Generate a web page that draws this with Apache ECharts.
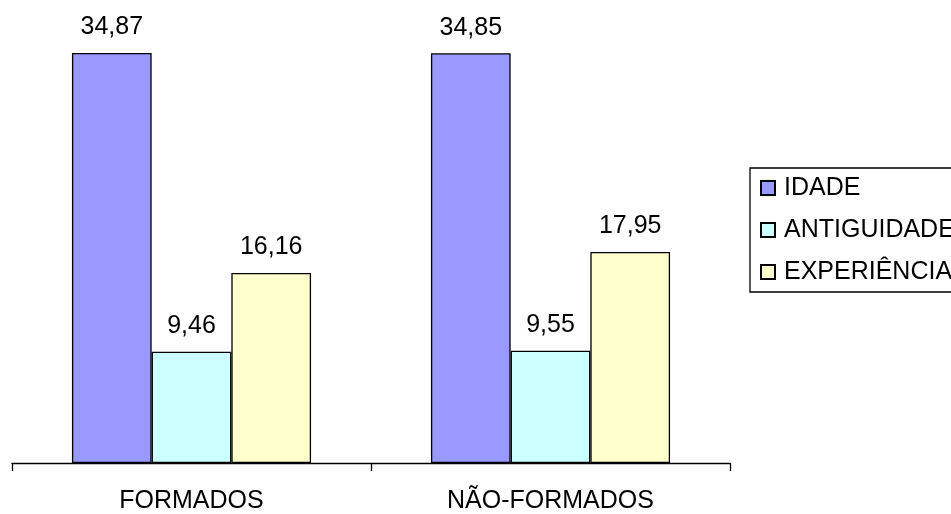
<!DOCTYPE html>
<html>
<head>
<meta charset="utf-8">
<script src="https://cdn.jsdelivr.net/npm/echarts@6/dist/echarts.min.js"></script>
<style>
  html, body { margin: 0; padding: 0; background: #fff; }
  #chart { width: 951px; height: 514px; }
</style>
</head>
<body>
<div id="chart"></div>
<script>
// Group labels along the x axis
const categories = ['FORMADOS', 'NÃO-FORMADOS'];

// Mean values per group (years)
const idade = [34.87, 34.85];
const antiguidade = [9.46, 9.55];
const experiencia = [16.16, 17.95];

const seriesNames = ['IDADE', 'ANTIGUIDADE', 'EXPERIÊNCIA'];
const seriesColors = ['#9999FF', '#CCFFFF', '#FFFFCC'];

const FONT = '"Liberation Sans", Arial, sans-serif';

function makeBar(name, data, color) {
  return {
    name: name,
    type: 'bar',
    data: data,
    barGap: 0,
    barCategoryGap: '33.4%',
    itemStyle: { color: color, borderColor: '#000', borderWidth: 1.3 },
    label: {
      show: true,
      position: 'top',
      distance: 13,
      color: '#000',
      fontFamily: FONT,
      fontSize: 25,
      formatter: p => p.value.toFixed(2).replace('.', ',')
    },
    emphasis: { disabled: true }
  };
}

const chart = echarts.init(document.getElementById('chart'), null, { renderer: 'canvas' });
chart.setOption({
  animation: false,
  backgroundColor: '#fff',
  grid: { left: 12, right: 221, top: 0, bottom: 51, containLabel: false },
  legend: {
    orient: 'vertical',
    left: 750,
    top: 168,
    padding: [7, 10, 7, 10],
    itemWidth: 14,
    itemHeight: 14,
    itemGap: 16,
    borderColor: '#000',
    borderWidth: 1.3,
    icon: 'rect',
    selectedMode: false,
    textStyle: { fontFamily: FONT, fontSize: 25, color: '#000', lineHeight: 26, padding: [0, 0, 0, 4] },
    data: seriesNames
  },
  xAxis: {
    type: 'category',
    data: categories,
    axisLine: { lineStyle: { color: '#000', width: 1.3 } },
    axisTick: { show: true, length: 8, lineStyle: { color: '#000', width: 1.3 } },
    axisLabel: { color: '#000', fontFamily: FONT, fontSize: 25, margin: 26 }
  },
  yAxis: {
    type: 'value',
    min: 0,
    max: 39.38,
    show: false,
    splitLine: { show: false }
  },
  series: [
    makeBar(seriesNames[0], idade, seriesColors[0]),
    makeBar(seriesNames[1], antiguidade, seriesColors[1]),
    makeBar(seriesNames[2], experiencia, seriesColors[2])
  ]
});
</script>
</body>
</html>
